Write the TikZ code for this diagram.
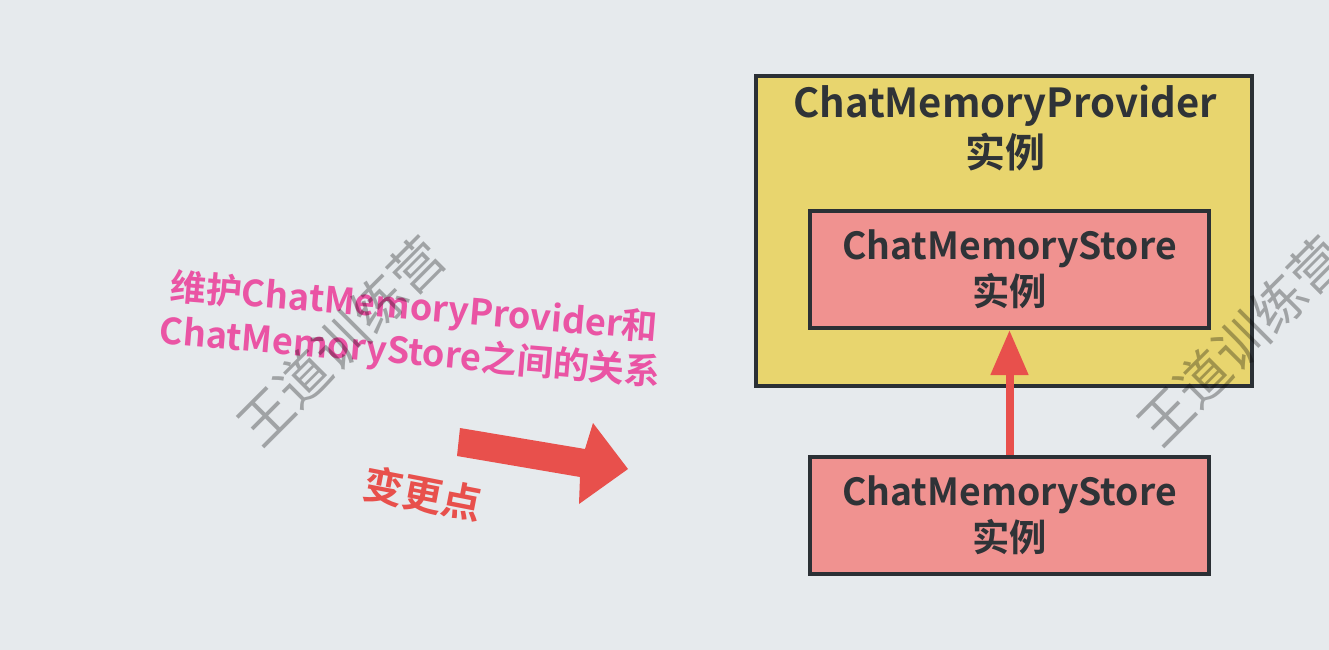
\documentclass[tikz,border=0pt]{standalone}
\usepackage{fontspec}
\usetikzlibrary{arrows.meta}
\newfontfamily\cjk{Noto Sans CJK SC}[BoldFont={Noto Sans CJK SC Bold}]
\definecolor{bg}{RGB}{230,234,237}
\definecolor{edge}{RGB}{43,48,53}
\definecolor{ink}{RGB}{47,51,55}
\definecolor{yellowbox}{RGB}{232,213,110}
\definecolor{pinkbox}{RGB}{240,146,144}
\definecolor{arrowred}{RGB}{232,80,76}
\definecolor{pinktext}{RGB}{234,84,164}
\begin{document}
\begin{tikzpicture}[x=0.75pt,y=-0.75pt,
  box/.style={draw=edge, line width=3pt, inner sep=0pt},
  storebox/.style={box, fill=pinkbox, minimum width=299.25pt, minimum height=87.75pt,
     align=center, text=ink, font=\cjk\bfseries\fontsize{28pt}{34.5pt}\selectfont},
  boxtext/.style={align=center, text=ink, font=\cjk\bfseries\fontsize{30pt}{37.5pt}\selectfont, inner sep=0pt},
  connector/.style={draw=arrowred, line width=6pt, -{Triangle[width=27pt,length=33.75pt]}},
  note/.style={align=center, inner sep=0pt, font=\cjk\bfseries\fontsize{27pt}{34pt}\selectfont},
  watermark/.style={inner sep=0pt, text=black, text opacity=0.3, font=\cjk\fontsize{40pt}{40pt}\selectfont, rotate=45}
]
\useasboundingbox[fill=bg] (0,0) rectangle (1329,650);

% container
\node[box, fill=yellowbox, minimum width=372pt, minimum height=232.5pt] (provider) at (1004,231) {};
\node[boxtext] (providerlabel) at (1005,128) {ChatMemoryProvider\\实例};

% stores
\node[storebox] (innerstore) at (1009.5,269.5) {ChatMemoryStore\\实例};
\node[storebox] (outerstore) at (1009.5,515.5) {ChatMemoryStore\\实例};
\draw[connector] (outerstore.north) -- (innerstore.south);

% change note
\node[note, text=pinktext, rotate=-4.8] (relation) at (412,331) {维护ChatMemoryProvider和\\ChatMemoryStore之间的关系};
\fill[arrowred] (460,428) -- (585,449) -- (593,423) -- (628,469) -- (579,504) -- (580,477) -- (457,456) -- cycle;
\node[note, text=arrowred, rotate=-11, font=\cjk\bfseries\fontsize{30pt}{30pt}\selectfont] (change) at (423,494) {变更点};

% watermarks
\node[watermark] (wm1) at (341,341) {王道训练营};
\node[watermark] (wm2) at (1241,341) {王道训练营};
\end{tikzpicture}
\end{document}
